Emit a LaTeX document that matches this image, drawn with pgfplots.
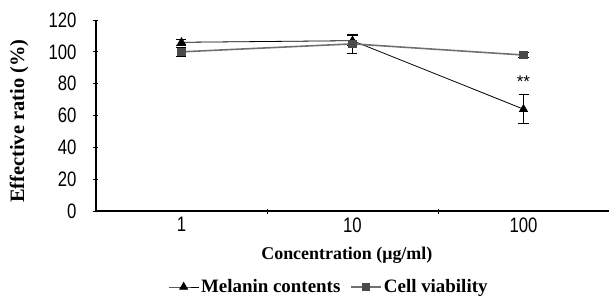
\documentclass[border=0pt]{standalone}
\usepackage{fontspec}
\setmainfont{Liberation Serif}
\setsansfont{Liberation Sans}
\usepackage{pgfplots}
\pgfplotsset{compat=1.18}
\usepackage{graphicx}
\definecolor{cvline}{HTML}{707070}
\definecolor{cvmark}{HTML}{4A4A4A}
\newcommand{\tl}[1]{\scalebox{0.8}[1]{\fontsize{21}{21}\sffamily #1}}
\begin{document}
\begin{tikzpicture}
\begin{axis}[
  scale only axis,
  width=513bp, height=191bp,
  xmin=-0.5, xmax=2.5,
  ymin=0, ymax=120,
  axis lines=left,
  axis line style={-, line width=1.3pt, black},
  ytick={0,20,40,60,80,100,120},
  yticklabels={\tl{0},\tl{20},\tl{40},\tl{60},\tl{80},\tl{100},\tl{120}},
  xtick={0,1,2},
  xticklabels={\tl{1},\tl{10},\tl{100}},
  major tick length=0pt,
  extra x ticks={0.5,1.5},
  extra x tick labels={},
  extra x tick style={major tick length=5bp, tick style={line width=0.8pt, black}},
  extra y ticks={0,20,40,60,80,100,120},
  extra y tick labels={},
  extra y tick style={major tick length=5bp, tick style={line width=0.8pt, black}},
  yticklabel style={xshift=-16bp},
  xticklabel style={yshift=-3bp},
  xlabel={\fontsize{18}{18}\selectfont\bfseries Concentration (μg/ml)},
  xlabel style={at={(axis description cs:0.489,0)}, anchor=north, yshift=-33bp},
  ylabel={\fontsize{20.5}{20.5}\selectfont\bfseries Effective ratio (\%)},
  ylabel style={at={(axis description cs:0,0.47)}, anchor=south, yshift=64bp},
  legend columns=2,
  legend style={draw=none, fill=none, at={(axis description cs:0.454,0)}, anchor=center, yshift=-76bp, font=\fontsize{19}{19}\selectfont\bfseries, /tikz/every even column/.append style={column sep=8bp}},
  legend image code/.code={\draw[mark repeat=2,mark phase=2] plot coordinates {(0bp,0bp)(15bp,0bp)(30bp,0bp)};},
  clip=false,
]
\coordinate (bl) at (rel axis cs:0,0);
\coordinate (tr) at (rel axis cs:1,1);
\addplot[black, line width=0.8pt, mark=triangle*, mark size=4.5bp, mark options={solid, fill=black},
  error bars/.cd, y dir=both, y explicit, error bar style={line width=0.9pt, black}, error mark options={rotate=90, mark size=5bp, line width=0.9pt, black}]
  coordinates {(0,106) +- (0,2) (1,107) +- (0,3) (2,64) +- (0,9)};
\addlegendentry{Melanin contents}
\addplot[cvline, line width=1.6pt, mark=square*, mark size=3.5bp, mark options={solid, fill=cvmark, draw=cvmark},
  error bars/.cd, y dir=both, y explicit, error bar style={line width=0.9pt, black}, error mark options={rotate=90, mark size=5bp, line width=0.9pt, black}]
  coordinates {(0,100) +- (0,3) (1,105) +- (0,6) (2,98) +- (0,1.5)};
\addlegendentry{Cell viability}
\node[font=\fontsize{17}{17}\sffamily] at (axis cs:2,81) {**};
\end{axis}
\pgfresetboundingbox
\path[use as bounding box] ([xshift=-96bp,yshift=-89bp]bl) rectangle ([yshift=20bp]tr);
\end{tikzpicture}
\end{document}
